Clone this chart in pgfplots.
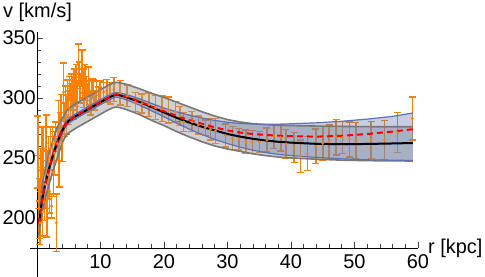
\documentclass[border=0pt]{standalone}
\usepackage{fontspec}
\setmainfont{Liberation Sans}
\usepackage{pgfplots}
\usepackage{pgfplotstable}
\pgfplotsset{compat=1.18}
\definecolor{mOrange}{rgb}{1,0.5,0}
\definecolor{mBlue}{rgb}{0.37,0.45,0.70}
\definecolor{mGrayEdge}{rgb}{0.47,0.47,0.47}

\pgfplotstableread{
r v e
0.15 255 30
0.25 230 22
0.35 208 25
0.45 196 18
0.55 240 18
0.65 220 22
0.75 250 26
0.85 205 20
0.95 236 22
1.05 258 18
1.15 214 16
1.3 228 20
1.45 262 24
1.55 200 16
1.7 236 20
1.85 250 18
2.0 222 18
2.1 258 18
2.3 210 10
2.45 262 14
2.6 238 20
2.75 254 18
2.9 268 12
3.05 196 24
3.2 262 14
3.35 280 18
3.5 246 20
3.65 276 12
3.8 288 15
3.95 262 15
4.2 305 24
4.35 282 14
4.5 296 14
4.65 286 16
4.8 303 12
4.95 292 14
5.1 308 10
5.25 298 14
5.4 310 10
5.55 304 14
5.7 296 14
5.85 314 10
6.0 305 12
6.15 318 10
6.3 300 14
6.5 328 17
6.65 320 10
6.8 308 12
7.1 326 14
7.25 312 12
7.4 304 12
7.55 316 12
7.7 308 10
7.85 300 12
8.1 314 12
8.3 304 10
8.5 296 10
8.7 308 8
8.9 305 10
9.1 298 8
9.4 306 8
9.7 302 7
9.95 306 8
10.5 305 8
11.0 306 9.5
11.5 304 9
12.1 307 10
13.1 304.2 10.2
14.2 301.8 9
15.5 296.5 7.9
16.5 295.3 8
17.6 294.2 9.8
18.7 292 10
19.7 291 10.7
20.7 290 11
21.8 288.5 8.5
22.5 285 8
23.1 280 8
24.4 280.3 8.3
25.4 277.5 7.5
26.5 275.3 6.4
27.3 274 9
28.1 272.6 10.4
29.7 268.8 9.5
30.8 266.6 9.5
31.8 265.7 9
32.9 263.8 9.5
33.9 263.3 9.5
35.0 263.2 8.8
36.2 265 10
37.3 268 10
38.4 267 11
39.2 261.8 12
40.5 258.6 12.5
41.5 251.4 13.6
42.6 253.6 14.2
43.9 259.8 14.2
45.0 262.2 13.9
46.0 263.6 13.9
47.1 267.4 14.8
48.1 267.1 13.2
49.2 265.5 14.5
50.2 264.5 15
52.6 265 15.3
54.7 265 16.1
56.8 271.1 16.7
59.1 283 18
}\obs

\pgfplotstableread{
r c red gu gl bu bl
0.3 195 195 203 186 197 193
0.5 203 203 213 193 205 201
0.75 213 213 224 202 215 211
1 221 221 233 209 223 219
1.5 233 233 246 220 235 231
2 243 243 256 230 245 241
2.5 252 252 265 239 254 250
3 260 260 273 247 262 258
3.5 267 267 279 255 269 265
4 273 273 283 263 275 271
4.5 278 278 288 268 280 276
5 281 281 291.5 271 283 279
6 284.5 284.7 295 274.5 286.5 282.5
7 287.5 287.7 298 277.5 289.5 285.5
8 290.5 290.7 301 280.5 292.5 288.5
9 293.5 293.7 304 283.5 295.5 291.5
10 296.5 296.7 307 286.5 298.5 294.5
11 299.5 299.7 310 289.5 301.5 297.5
12 302 302.2 312.5 292 304 300
12.5 302.8 303 313 292.5 304.6 300.8
13 302.4 302.7 312.7 292 304.3 300.4
14 300.8 301.1 311.5 290.5 303 298.6
16 297 297.5 308 286.5 299.6 294.4
18 292.5 293 304 281.5 295.6 289.4
20 288 289 300.5 277 291.6 284.4
22 283.5 285 296.5 272 288.5 279
24 279.5 281.5 292.5 267.5 285.7 274
26 276 278.5 288.5 263.5 283.3 269.5
28 273 275.5 285 260 281.3 265.5
30 270 273 282 257.5 279.8 262
32 267.8 271.2 280 255.5 278.8 259
34 266 270 278.6 253.5 278.3 256.5
36 264.6 269.2 277.8 252 278.1 254.5
38 263.5 268.6 277.3 250.8 278.2 253
40 262.8 268.2 277 250 278.5 252
44 261.8 267.8 276.6 249 279.3 250.5
48 261.5 268.5 276.3 248.2 280.6 249.3
52 261.7 270 276.1 247.8 282.4 248.5
56 262.1 272 276 247.6 284.7 248.1
59.2 262.5 274 276 247.5 287.5 248
}\curves

\begin{document}
\begin{tikzpicture}
\begin{axis}[
  at={(37bp,29bp)}, anchor=south west,
  scale only axis, width=381bp, height=216bp,
  xmin=0, xmax=60, ymin=175, ymax=355,
  clip=false,
  axis lines=left,
  axis line style={-, line width=0.9bp, black},
  xtick={10,20,...,60}, ytick={200,250,300,350},
  minor xtick={2,4,...,58}, minor ytick={180,190,...,350},
  tick align=inside,
  major tick length=6bp, minor tick length=3.5bp,
  tick style={black!75, line width=0.7bp},
  ticklabel style={font=\fontsize{20}{22}\selectfont},
  /pgf/number format/assume math mode=true,
  xticklabel style={inner sep=0pt, anchor=north, yshift=-6bp},
  yticklabel style={inner sep=0pt, anchor=east, xshift=-1bp},
]
% observed points with error bars
\addplot[only marks, mOrange, mark=*, mark size=1.2bp,
  error bars/.cd, y dir=both, y explicit,
  error bar style={line width=1.5bp},
  error mark options={rotate=90, line width=1.5bp, mark size=3.5bp}]
  table[x=r, y=v, y error=e]{\obs};
% grey band
\addplot[draw=none, fill=black!40, fill opacity=0.45] coordinates {
(0.3,203)(0.5,213)(0.75,224)(1,233)(1.5,246)(2,256)(2.5,265)(3,273)(3.5,279)(4,283)(4.5,288)(5,291.5)(6,295)(7,298)(8,301)(9,304)(10,307)(11,310)(12,312.5)(12.5,313)(13,312.7)(14,311.5)(16,308)(18,304)(20,300.5)(22,296.5)(24,292.5)(26,288.5)(28,285)(30,282)(32,280)(34,278.6)(36,277.8)(38,277.3)(40,277)(44,276.6)(48,276.3)(52,276.1)(56,276)(59.2,276)
(59.2,247.5)(56,247.6)(52,247.8)(48,248.2)(44,249)(40,250)(38,250.8)(36,252)(34,253.5)(32,255.5)(30,257.5)(28,260)(26,263.5)(24,267.5)(22,272)(20,277)(18,281.5)(16,286.5)(14,290.5)(13,292)(12.5,292.5)(12,292)(11,289.5)(10,286.5)(9,283.5)(8,280.5)(7,277.5)(6,274.5)(5,271)(4.5,268)(4,263)(3.5,255)(3,247)(2.5,239)(2,230)(1.5,220)(1,209)(0.75,202)(0.5,193)(0.3,186)
} -- cycle;
% blue band
\addplot[draw=none, fill=mBlue, fill opacity=0.35] coordinates {
(0.3,197)(0.5,205)(0.75,215)(1,223)(1.5,235)(2,245)(2.5,254)(3,262)(3.5,269)(4,275)(4.5,280)(5,283)(6,286.5)(7,289.5)(8,292.5)(9,295.5)(10,298.5)(11,301.5)(12,304)(12.5,304.6)(13,304.3)(14,303)(16,299.6)(18,295.6)(20,291.6)(22,288.5)(24,285.7)(26,283.3)(28,281.3)(30,279.8)(32,278.8)(34,278.3)(36,278.1)(38,278.2)(40,278.5)(44,279.3)(48,280.6)(52,282.4)(56,284.7)(59.2,287.5)
(59.2,248)(56,248.1)(52,248.5)(48,249.3)(44,250.5)(40,252)(38,253)(36,254.5)(34,256.5)(32,259)(30,262)(28,265.5)(26,269.5)(24,274)(22,279)(20,284.4)(18,289.4)(16,294.4)(14,298.6)(13,300.4)(12.5,300.8)(12,300)(11,297.5)(10,294.5)(9,291.5)(8,288.5)(7,285.5)(6,282.5)(5,279)(4.5,276)(4,271)(3.5,265)(3,258)(2.5,250)(2,241)(1.5,231)(1,219)(0.75,211)(0.5,201)(0.3,193)
} -- cycle;
% band edges
\addplot[mGrayEdge, line width=1.6bp, line join=round] table[x=r, y=gu]{\curves};
\addplot[mGrayEdge, line width=1.6bp, line join=round] table[x=r, y=gl]{\curves};
\addplot[mBlue, line width=1.2bp, line join=round] table[x=r, y=bu]{\curves};
\addplot[mBlue, line width=1.2bp, line join=round] table[x=r, y=bl]{\curves};
% fits
\addplot[black, line width=2bp, line join=round] table[x=r, y=c]{\curves};
\addplot[red, line width=2bp, line join=round, dash pattern=on 6bp off 4bp] table[x=r, y=red]{\curves};
% axis line extensions (axes cross at r=0, v=175)
\draw[black, line width=0.9bp] (axis cs:0,175) -- (axis cs:0,151);
\draw[black, line width=0.9bp] (axis cs:-1.1,175) -- (axis cs:0,175);
% axis labels
\node[anchor=west, inner sep=0pt, xshift=10bp, font=\fontsize{20}{24}\selectfont] at (rel axis cs:1,0) {r [kpc]};
\node[anchor=west, inner sep=0pt, xshift=-34bp, yshift=19.5bp, font=\fontsize{20}{24}\selectfont] at (rel axis cs:0,1) {v [km/s]};
\end{axis}
\pgfresetboundingbox
\useasboundingbox (0,0) rectangle (485bp,277bp);
\end{tikzpicture}
\end{document}
